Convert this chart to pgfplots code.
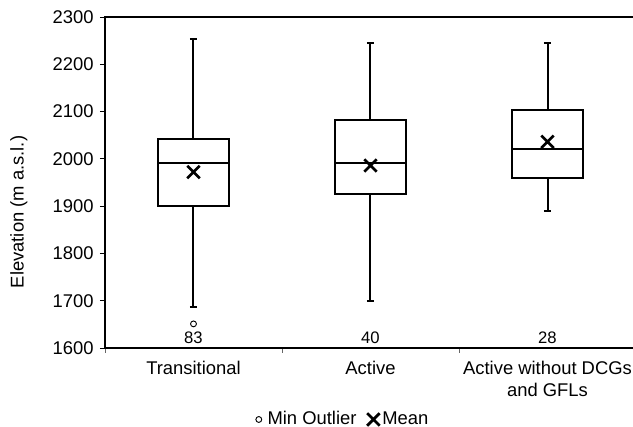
\documentclass[border=0pt]{standalone}
\usepackage{pgfplots}
\pgfplotsset{compat=1.18}
\usepackage{fontspec}
\setmainfont{Liberation Sans}

\pgfplotsset{
  boxpart/.style={black, line width=1.5pt, forget plot, mark=none, line join=miter},
  markentry/.style={legend image code/.code={\draw[##1] plot coordinates {(0cm,0cm)};
    \path[draw=none, fill=none] (0cm,0cm) -- (#1,0cm);}},
}

\begin{document}
\begin{tikzpicture}
\fontsize{13.8}{16}\selectfont
\begin{axis}[
  name=ax, at={(0,0)}, anchor=south west,
  scale only axis, width=398.25pt, height=248.25pt,
  xmin=-0.5, xmax=2.5, ymin=1600, ymax=2300,
  axis line style={line width=1.1pt},
  ytick={1600,1700,...,2300},
  /pgf/number format/assume math mode=true,
  /pgf/number format/1000 sep={},
  tick pos=left, tick align=outside,
  major tick length=3.75pt, minor tick length=3.75pt,
  tick style={black, line width=0.6pt},
  xtick={0,1,2},
  xticklabels={Transitional, Active, {Active without DCGs\\and GFLs}},
  xticklabel style={align=center, yshift=-1.5pt},
  major x tick style={draw=none},
  minor xtick={-0.5,0.5,1.5,2.5},
  minor x tick style={draw=black!60},
  ylabel={Elevation (m a.s.l.)},
  ylabel style={at={(axis description cs:-0.162,0.411)}, anchor=center},
  legend style={at={(0.449,-0.216)}, anchor=center, draw=none,
    legend columns=2,
    /tikz/every even column/.append style={column sep=6pt},
    nodes={inner xsep=2pt},
    font=\fontsize{13.8}{16}\selectfont},
  legend cell align=left,
]
% Transitional: Q1 1900, median 1991, Q3 2043, whiskers 1687 / 2253
\addplot[boxpart] coordinates {(-0.2,1900) (0.2,1900) (0.2,2043) (-0.2,2043) (-0.2,1900)} -- cycle;
\addplot[boxpart] coordinates {(-0.2,1991) (0.2,1991)};
\addplot[boxpart] coordinates {(0,2043) (0,2253)};
\addplot[boxpart] coordinates {(-0.02,2253) (0.02,2253)};
\addplot[boxpart] coordinates {(0,1900) (0,1687)};
\addplot[boxpart] coordinates {(-0.02,1687) (0.02,1687)};
% Active: Q1 1925, median 1991, Q3 2082, whiskers 1699 / 2245
\addplot[boxpart] coordinates {(0.8,1925) (1.2,1925) (1.2,2082) (0.8,2082) (0.8,1925)} -- cycle;
\addplot[boxpart] coordinates {(0.8,1991) (1.2,1991)};
\addplot[boxpart] coordinates {(1,2082) (1,2245)};
\addplot[boxpart] coordinates {(0.98,2245) (1.02,2245)};
\addplot[boxpart] coordinates {(1,1925) (1,1699)};
\addplot[boxpart] coordinates {(0.98,1699) (1.02,1699)};
% Active without DCGs and GFLs: Q1 1960, median 2020, Q3 2103, whiskers 1890 / 2245
\addplot[boxpart] coordinates {(1.8,1960) (2.2,1960) (2.2,2103) (1.8,2103) (1.8,1960)} -- cycle;
\addplot[boxpart] coordinates {(1.8,2020) (2.2,2020)};
\addplot[boxpart] coordinates {(2,2103) (2,2245)};
\addplot[boxpart] coordinates {(1.98,2245) (2.02,2245)};
\addplot[boxpart] coordinates {(2,1960) (2,1890)};
\addplot[boxpart] coordinates {(1.98,1890) (2.02,1890)};
% outlier and means
\addplot[only marks, markentry=0.16cm, mark=o, mark size=2.2pt, line width=0.7pt, black]
  coordinates {(0,1651)};
\addlegendentry{Min Outlier}
\addplot[only marks, markentry=0cm, mark=x, mark size=6.6pt, line width=2pt, black]
  coordinates {(0,1972) (1,1986) (2,2036)};
\addlegendentry{Mean}
% sample sizes
\node[anchor=base, font=\fontsize{12.5}{14}\selectfont] at (axis cs:0,1600) [yshift=3.5pt] {83};
\node[anchor=base, font=\fontsize{12.5}{14}\selectfont] at (axis cs:1,1600) [yshift=3.5pt] {40};
\node[anchor=base, font=\fontsize{12.5}{14}\selectfont] at (axis cs:2,1600) [yshift=3.5pt] {28};
\end{axis}
\pgfresetboundingbox
\path[use as bounding box] (-78.75pt,-59.25pt) rectangle (396pt,261pt);
\end{tikzpicture}
\end{document}
